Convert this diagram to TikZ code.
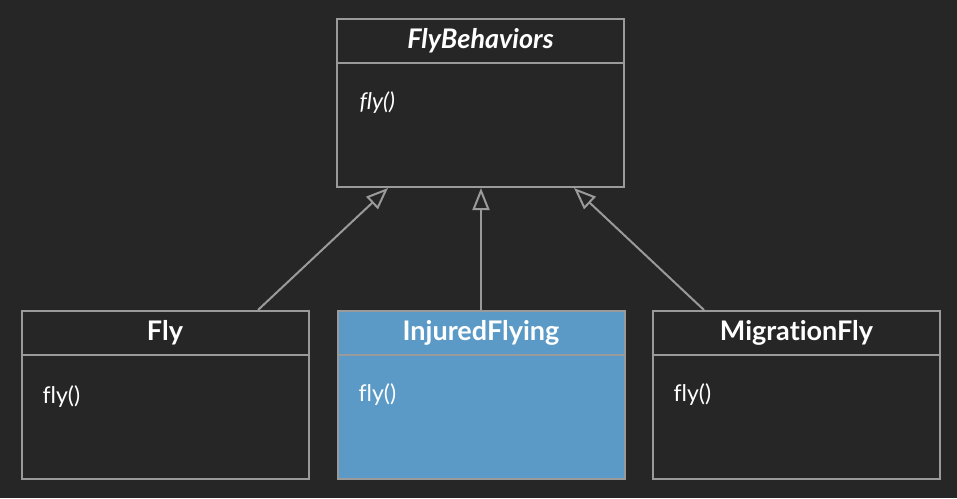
\documentclass[tikz,border=0pt]{standalone}
\usepackage{fontspec}
\setmainfont{Lato}[Ligatures={NoCommon}]
\usetikzlibrary{arrows.meta}
\definecolor{bg}{HTML}{262626}
\definecolor{edge}{HTML}{9A9A9A}
\definecolor{hl}{HTML}{5B9AC6}
\begin{document}
\begin{tikzpicture}[x=1pt,y=-1pt,
  classbox/.style={draw=edge, line width=2pt, minimum width=287pt, minimum height=168pt, inner sep=0pt},
  titletext/.style={text=white, font=\fontsize{27}{30}\selectfont\bfseries},
  methodtext/.style={text=white, font=\fontsize{23}{26}\selectfont, anchor=west},
  inherit/.style={draw=edge, line width=2pt, arrows={-Triangle[open, length=22pt, width=17pt, fill=bg]}}
]
\fill[bg] (0,0) rectangle (957,498);
\useasboundingbox (0,0) rectangle (957,498);

% boxes
\node[classbox, fill=bg] (fb) at (480.5,102.5) {};
\node[classbox, fill=bg] (fly) at (165,395) {};
\node[classbox, fill=hl] (inj) at (481,395) {};
\node[classbox, fill=bg] (mig) at (796.5,395) {};

% dividers
\draw[edge, line width=2pt] (fb.west |- 0,63) -- (fb.east |- 0,63);
\draw[edge, line width=2pt] (fly.west |- 0,355) -- (fly.east |- 0,355);
\draw[edge, line width=2pt] (inj.west |- 0,355) -- (inj.east |- 0,355);
\draw[edge, line width=2pt] (mig.west |- 0,355) -- (mig.east |- 0,355);

% titles
\node[titletext, font=\fontsize{27}{30}\selectfont\bfseries\itshape] (fbt) at (480.5,41) {FlyBehaviors};
\node[titletext] (flyt) at (165,333) {Fly};
\node[titletext] (injt) at (481,333) {InjuredFlying};
\node[titletext] (migt) at (796.5,333) {MigrationFly};

% methods
\node[methodtext, font=\fontsize{23}{26}\selectfont\itshape] (fbm) at (356,103) {fly()};
\node[methodtext] (flym) at (39,397) {fly()};
\node[methodtext] (injm) at (355,395) {fly()};
\node[methodtext] (migm) at (670,395) {fly()};

% connectors
\coordinate (a1) at (258,310);
\coordinate (a2) at (388,188);
\coordinate (b1) at (481,310);
\coordinate (b2) at (481,188);
\coordinate (c1) at (704,310);
\coordinate (c2) at (574,188);
\draw[inherit] (a1) -- (a2);
\draw[inherit] (b1) -- (b2);
\draw[inherit] (c1) -- (c2);
\end{tikzpicture}
\end{document}
